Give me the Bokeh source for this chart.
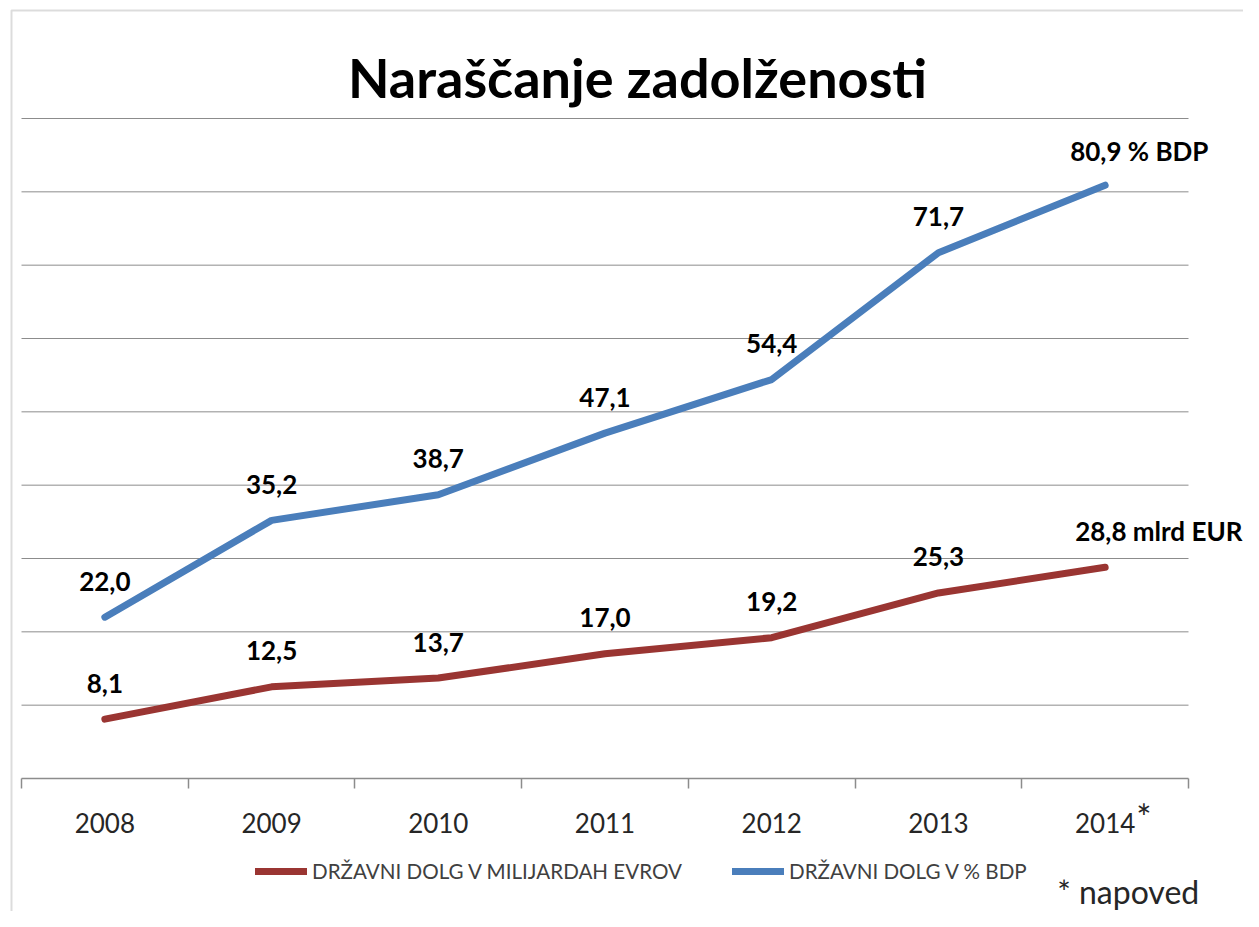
from bokeh.plotting import figure
from bokeh.models import (ColumnDataSource, LabelSet, Label, Legend, LegendItem,
                          FixedTicker, Range1d, BoxAnnotation)
from bokeh.core.properties import value
from bokeh.embed import file_html
from bokeh.resources import INLINE

# ---------------- data ----------------
years = ["2008", "2009", "2010", "2011", "2012", "2013", "2014"]
debt_eur_bn = [8.1, 12.5, 13.7, 17.0, 19.2, 25.3, 28.8]
debt_pct_gdp = [22.0, 35.2, 38.7, 47.1, 54.4, 71.7, 80.9]
series_names = ["DRŽAVNI DOLG V MILIJARDAH EVROV", "DRŽAVNI DOLG V % BDP"]
last_suffix_eur = " mlrd EUR"
last_suffix_gdp = "  % BDP"
title_text = "Naraščanje zadolženosti"
forecast_mark = "*"
note_text = "* napoved"

# ---------------- layout (pixel positions on the canvas) ----------------
W, H = 1243, 911
PL, PR, PB = 21, 1188, 778        # plot area: left / right edge, x axis
PX_PER_UNIT = 660 / 90           # vertical pixels per data unit
grid_values = list(range(10, 91, 10))
N = len(years)
RED = "#9A3532"
BLUE = "#4A7EBB"
GRID = "#8C8C8C"
FONT = "Lato"


def px_x(px):
    return -0.5 + (px - PL) * N / (PR - PL)


def px_y(py):
    return (PB - py) / PX_PER_UNIT


def fmt(v):
    return f"{v:.1f}".replace(".", ",")


xs = list(range(N))

p = figure(width=W, height=H, x_range=Range1d(px_x(0), px_x(W)),
           y_range=Range1d(px_y(H), px_y(0)),
           output_backend="svg", toolbar_location=None, y_axis_location=None,
           min_border=0)
p.outline_line_color = None
p.background_fill_color = "white"
p.border_fill_color = "white"
p.xgrid.visible = False
p.ygrid.visible = False

# horizontal gridlines limited to the plot area
gsrc = ColumnDataSource(dict(y=grid_values))
p.segment(x0=-0.5, x1=N - 0.5, y0="y", y1="y", source=gsrc, line_color=GRID, line_width=1)

ax = p.xaxis[0]
ax.fixed_location = 0
ax.bounds = (-0.5, N - 0.5)
ax.ticker = FixedTicker(ticks=xs, minor_ticks=[i - 0.5 for i in range(N + 1)])
ax.major_label_overrides = {i: y for i, y in zip(xs, years)}
ax.axis_line_color = GRID
ax.axis_line_width = 1.5
ax.major_tick_line_color = None
ax.major_tick_out = 0
ax.major_tick_in = 0
ax.minor_tick_line_color = GRID
ax.minor_tick_line_width = 1.5
ax.minor_tick_out = 10
ax.minor_tick_in = 0
ax.major_label_standoff = 24
ax.major_label_text_font = FONT
ax.major_label_text_font_size = "26px"
ax.major_label_text_color = "#262626"

src = ColumnDataSource(dict(x=xs, eur=debt_eur_bn, gdp=debt_pct_gdp))
r_eur = p.line("x", "eur", source=src, line_color=RED, line_width=7,
               line_cap="round", line_join="round")
r_gdp = p.line("x", "gdp", source=src, line_color=BLUE, line_width=7,
               line_cap="round", line_join="round")

for vals in (debt_eur_bn, debt_pct_gdp):
    s = ColumnDataSource(dict(x=xs[:-1], y=vals[:-1], t=[fmt(v) for v in vals[:-1]]))
    p.add_layout(LabelSet(x="x", y="y", text="t", source=s, y_offset=36,
                          text_align="center", text_baseline="middle",
                          text_font=value(FONT), text_font_style="bold",
                          text_font_size="26px", text_color="#000000"))

end_style = dict(text_font=FONT, text_font_style="bold", text_font_size="26px",
                 text_color="#000000", text_baseline="middle", text_align="left")
p.add_layout(Label(x=xs[-1], y=debt_pct_gdp[-1], text=fmt(debt_pct_gdp[-1]) + last_suffix_gdp,
                   x_offset=-35, y_offset=34, **end_style))
p.add_layout(Label(x=xs[-1], y=debt_eur_bn[-1], text=fmt(debt_eur_bn[-1]) + last_suffix_eur,
                   x_offset=-30, y_offset=36, **end_style))

# title
p.add_layout(Label(x=px_x(637), y=px_y(77), text=title_text, text_align="center",
                   text_baseline="middle", text_font=FONT, text_font_style="bold",
                   text_font_size="54px", text_color="#000000"))

# forecast asterisk next to 2014
p.add_layout(Label(x=xs[-1], y=px_y(816), x_offset=31, text=forecast_mark,
                   text_align="left", text_baseline="middle", text_font=FONT,
                   text_font_size="36px", text_color="#262626"))

# note
p.add_layout(Label(x=xs[-1], y=px_y(891), x_offset=-48, text=note_text,
                   text_align="left", text_baseline="middle", text_font=FONT,
                   text_font_size="32px", text_color="#262626"))

legend = Legend(items=[LegendItem(label=series_names[0], renderers=[r_eur]),
                       LegendItem(label=series_names[1], renderers=[r_gdp])],
                orientation="horizontal", location=(255, H - 883),
                glyph_width=52, glyph_height=20, label_standoff=5, spacing=50,
                padding=0, margin=0, border_line_color=None, background_fill_alpha=0,
                label_text_font=FONT, label_text_font_size="20.6px",
                label_text_color="#404040")
p.add_layout(legend)

# outer chart frame (left and top edges visible)
p.add_layout(BoxAnnotation(left=px_x(11), right=px_x(3000), top=px_y(10), bottom=px_y(3000),
                           fill_alpha=0, line_color="#8A8A8A", line_width=2))

open("out.html", "w").write(file_html(p, INLINE))
